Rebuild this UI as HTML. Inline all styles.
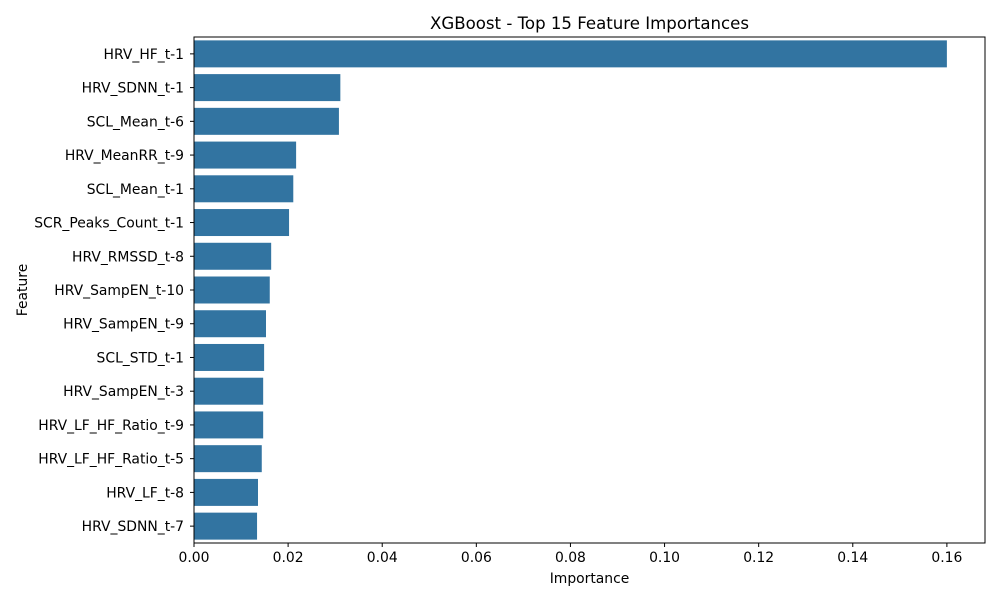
<!DOCTYPE html>
<html><head><meta charset="utf-8"><style>
body{margin:0;background:#fff;font-family:"Liberation Sans","DejaVu Sans",sans-serif;}
svg text{font-family:"DejaVu Sans","Liberation Sans",sans-serif;}
</style></head><body>
<svg id="chart" width="1000" height="600" xmlns="http://www.w3.org/2000/svg">
<rect width="1000" height="600" fill="#fff"/>
<text x="589.5" y="29" font-size="16.6" text-anchor="middle" fill="#000">XGBoost - Top 15 Feature Importances</text>
<g id="bars"></g>
<g id="yticks"></g>
<g id="xticks"></g>
<rect x="194" y="37" width="791" height="506" fill="none" stroke="#000" stroke-width="1"/>
<text x="589.5" y="583" font-size="13.9" text-anchor="middle">Importance</text>
<text x="0" y="0" font-size="13.9" text-anchor="middle" transform="translate(27,290) rotate(-90)">Feature</text>
</svg>
<script>
const features = ["HRV_HF_t-1","HRV_SDNN_t-1","SCL_Mean_t-6","HRV_MeanRR_t-9","SCL_Mean_t-1","SCR_Peaks_Count_t-1","HRV_RMSSD_t-8","HRV_SampEN_t-10","HRV_SampEN_t-9","SCL_STD_t-1","HRV_SampEN_t-3","HRV_LF_HF_Ratio_t-9","HRV_LF_HF_Ratio_t-5","HRV_LF_t-8","HRV_SDNN_t-7"];
const importances = [0.160,0.0311,0.0308,0.0217,0.0211,0.0202,0.0164,0.0161,0.0153,0.0149,0.0147,0.0147,0.0144,0.0136,0.0134];
const xTicks = [0,0.02,0.04,0.06,0.08,0.10,0.12,0.14,0.16];
const xTickLabels = ["0.00","0.02","0.04","0.06","0.08","0.10","0.12","0.14","0.16"];
const NS="http://www.w3.org/2000/svg";
const L=194,R=985,T=37,B=543,xmax=0.1681;
const x=v=>L+v/xmax*(R-L);
const band=(B-T)/features.length;
const y=i=>T+i*band;
const gb=document.getElementById('bars'),gy=document.getElementById('yticks'),gx=document.getElementById('xticks');
features.forEach((f,i)=>{
 const r=document.createElementNS(NS,'rect');
 r.setAttribute('x',x(0));r.setAttribute('y',y(i)+band*0.1);
 r.setAttribute('width',x(importances[i])-x(0));r.setAttribute('height',band*0.8);
 r.setAttribute('fill','#3274a1');
 
 
 gb.appendChild(r);
 const cy=y(i)+band/2;
 const tk=document.createElementNS(NS,'line');
 tk.setAttribute('x1',L-4);tk.setAttribute('x2',L);tk.setAttribute('y1',cy);tk.setAttribute('y2',cy);tk.setAttribute('stroke','#000');
 
 
 gy.appendChild(tk);
 const t=document.createElementNS(NS,'text');
 t.setAttribute('x',L-10);t.setAttribute('y',cy+5);t.setAttribute('font-size','13.9');t.setAttribute('text-anchor','end');
 t.textContent=f;
 
 
 gy.appendChild(t);
});
xTicks.forEach((v,i)=>{
 const tk=document.createElementNS(NS,'line');
 tk.setAttribute('x1',x(v));tk.setAttribute('x2',x(v));tk.setAttribute('y1',B);tk.setAttribute('y2',B+4);tk.setAttribute('stroke','#000');
 
 
 gx.appendChild(tk);
 const t=document.createElementNS(NS,'text');
 t.setAttribute('x',x(v));t.setAttribute('y',B+19);t.setAttribute('font-size','13.9');t.setAttribute('text-anchor','middle');
 t.textContent=xTickLabels[i];
 
 
 gx.appendChild(t);
});
</script>
</body></html>
